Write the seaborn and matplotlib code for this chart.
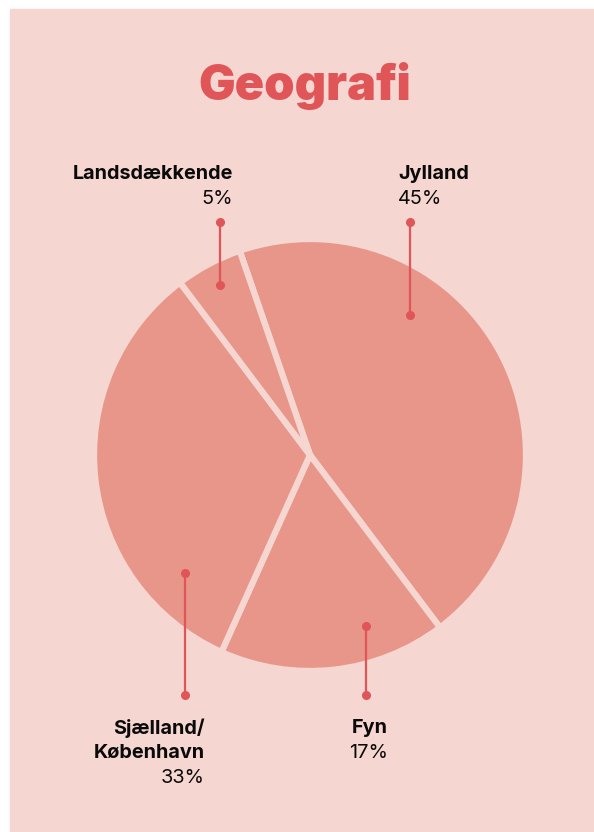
import matplotlib
matplotlib.use('Agg')
import matplotlib.pyplot as plt
import seaborn as sns
from matplotlib.patches import Rectangle

# data
regions = ["Jylland", "Fyn", "Sjælland/\nKøbenhavn", "Landsdækkende"]
shares = [45, 17, 33, 5]

# label layout (pixel coords, y from top): line x, dot top, dot bottom, text x, text top, align
label_pos = {
    "Jylland": (410, 222, 315, 398, 165, "left"),
    "Fyn": (366, 626, 695, 388, 719, "right"),
    "Sjælland/\nKøbenhavn": (185, 573, 695, 205, 719, "right"),
    "Landsdækkende": (220, 222, 285, 233, 165, "right"),
}

bg = "#F6D6D0"
wedge_col = "#E8968A"
accent = "#E05658"

sns.set_theme(style="white")
plt.rcParams['font.family'] = ['Inter', 'DejaVu Sans']

W, H = 594, 832
fig = plt.figure(figsize=(W / 100, H / 100), dpi=100, facecolor="white")
fig.patches.append(Rectangle((10 / W, 0), 1 - 10 / W, 1 - 9 / H,
                             transform=fig.transFigure, color=bg, zorder=-10))

ax = fig.add_axes([0, 0, 1, 1])
ax.patch.set_alpha(0)

# pie (y axis inverted, so counterclock=True gives clockwise on screen)
ax.pie(shares, colors=[wedge_col] * len(shares), startangle=-109,
       counterclock=True, center=(310, 455), radius=216, frame=True,
       wedgeprops=dict(edgecolor=bg, linewidth=4.5))
ax.set_xlim(0, W)
ax.set_ylim(H, 0)
ax.set_aspect("equal")
ax.axis("off")

ax.text(305, 100, "Geografi", ha="center", va="baseline", fontsize=35,
        fontweight="black", color=accent)

step = 25
for name, val in zip(regions, shares):
    lx, y0, y1, tx, ty, al = label_pos[name]
    ax.plot([lx, lx], [y0, y1], color=accent, lw=1.6, zorder=5)
    ax.plot([lx, lx], [y0, y1], "o", color=accent, ms=5.5, zorder=6)
    lines = name.split("\n")
    for i, part in enumerate(lines):
        ax.text(tx, ty + step * i, part, ha=al, va="top", fontsize=14.3,
                fontweight="bold", color="#0a0a0a")
    ax.text(tx, ty + step * len(lines), f"{val}%", ha=al, va="top",
            fontsize=14.3, color="#0a0a0a")

fig.savefig("out.png", dpi=100, facecolor=fig.get_facecolor())
